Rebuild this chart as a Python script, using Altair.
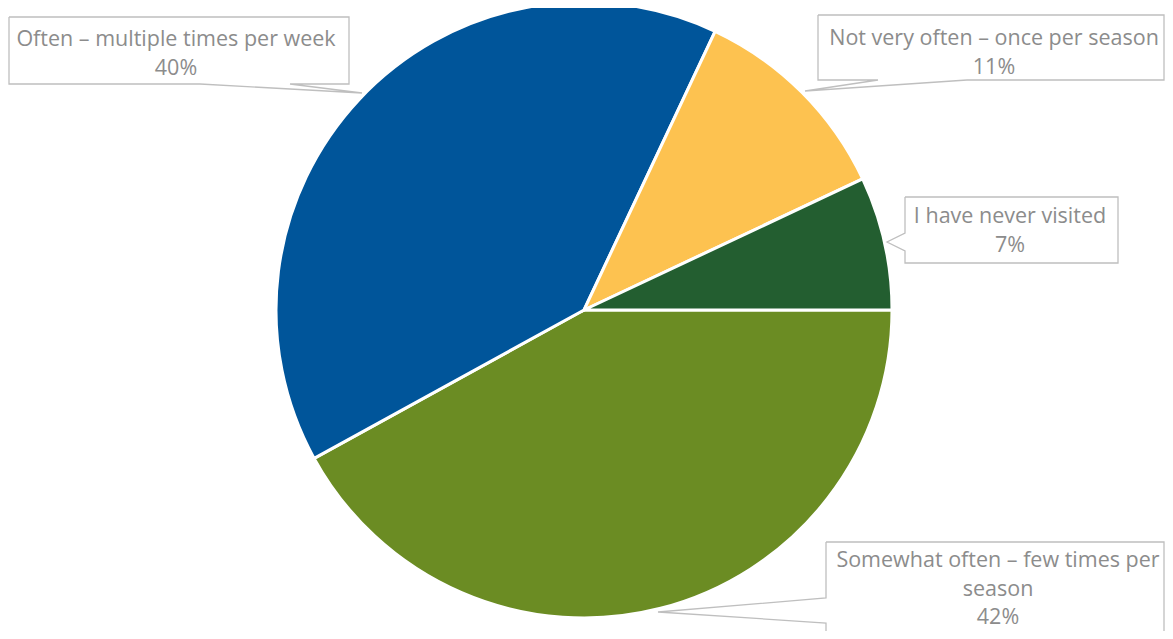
import altair as alt
import pandas as pd

# ---------------- data ----------------
categories = [
    "Somewhat often – few times per season",
    "Often – multiple times per week",
    "Not very often – once per season",
    "I have never visited",
]
values = [42, 40, 11, 7]
colors = ["#6B8C23", "#00559A", "#FDC250", "#235E30"]
# how each category name is wrapped in its callout
label_lines = [
    ["Somewhat often – few times per", "season"],
    ["Often – multiple times per week"],
    ["Not very often – once per season"],
    ["I have never visited"],
]

# ---------------- layout (page pixels; margin of 8 removed below) ----------------
M = 8
W, H = 1157, 623
PIE_CX, PIE_CY, PIE_R = 584, 310, 308
TEXT_COLOR = "#8C8C8C"
BOX_COLOR = "#BFBFBF"
FONT = "Open Sans"
FONT_SIZE = 21.5
LINE_H = 28.5

# first-line baseline / centre of each label
label_anchor = [(998, 567), (176, 46), (994, 45), (1010, 223)]
# callout outlines (box with pointer), page pixels
callouts = [
    [(826, 542), (1164, 542), (1164, 700), (826, 700), (826, 623), (658, 612), (826, 598)],
    [(9, 17), (349, 17), (349, 84), (290, 84), (362, 93), (200, 84), (9, 84)],
    [(818, 15), (1164, 15), (1164, 80), (967, 80), (805, 91), (878, 80), (818, 80)],
    [(905, 197), (1118, 197), (1118, 263), (905, 263), (905, 251), (887, 242), (905, 233)],
]

# ---------------- tables ----------------
pie_df = pd.DataFrame({
    "category": categories,
    "value": values,
    "order": list(range(len(categories))),
})

lab_rows = []
for i, (cat, v) in enumerate(zip(categories, values)):
    ax, ay = label_anchor[i]
    lab_rows.append({
        "category": cat,
        "text": "\n".join(label_lines[i] + [f"{v}%"]),
        "x": ax - M,
        "y": ay - M,
    })
lab_df = pd.DataFrame(lab_rows)

co_rows = []
for i, pts in enumerate(callouts):
    closed = pts + [pts[0]]
    for j, (px, py) in enumerate(closed):
        co_rows.append({"cid": i, "idx": j, "x": px - M, "y": py - M})
co_df = pd.DataFrame(co_rows)

# ---------------- chart ----------------
pie = alt.Chart(pie_df).mark_arc(
    radius=PIE_R, stroke="white", strokeWidth=3
).encode(
    theta=alt.Theta("value:Q", stack=True,
                    scale=alt.Scale(range=[1.5707963, 7.8539816])),
    order=alt.Order("order:Q"),
    color=alt.Color("category:N",
                    scale=alt.Scale(domain=categories, range=colors),
                    legend=None),
    x=alt.value(PIE_CX - M),
    y=alt.value(PIE_CY - M),
)

boxes = alt.Chart(co_df).mark_line(
    fill="white", stroke=BOX_COLOR, strokeWidth=1.3, interpolate="linear"
).encode(
    x=alt.X("x:Q", scale=None),
    y=alt.Y("y:Q", scale=None),
    detail="cid:N",
    order=alt.Order("idx:Q"),
)

texts = alt.Chart(lab_df).mark_text(
    font=FONT, fontSize=FONT_SIZE, color=TEXT_COLOR, align="center",
    baseline="alphabetic", lineBreak="\n", lineHeight=LINE_H,
).encode(
    x=alt.X("x:Q", scale=None),
    y=alt.Y("y:Q", scale=None),
    text="text:N",
)

chart = alt.layer(pie, boxes, texts).properties(
    width=W, height=H, padding=0,
    autosize=alt.AutoSizeParams(type="none"),
).configure(
    background="white",
    view=alt.ViewConfig(stroke=None),
)

chart.save("out.html", embed_options={"renderer": "svg", "actions": False})
